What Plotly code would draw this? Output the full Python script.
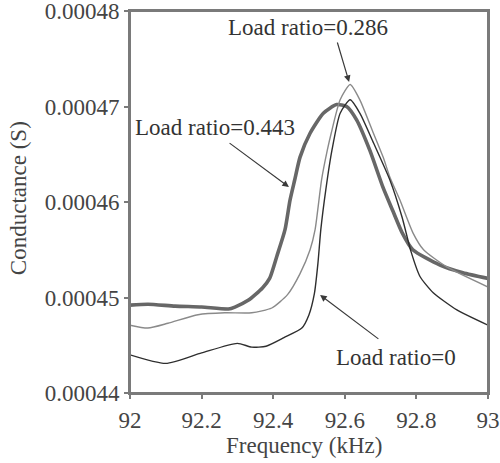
import plotly.graph_objects as go

# Load ratio = 0 (dark thin)
freq_0 = [92.00, 92.10, 92.20, 92.30, 92.34, 92.38, 92.43, 92.48, 92.50, 92.515, 92.525,
          92.533, 92.547, 92.564, 92.587, 92.615, 92.642, 92.68, 92.726, 92.76, 92.785,
          92.81, 92.847, 92.913, 93.00]
cond_0 = [44.40, 44.31, 44.42, 44.52, 44.48, 44.49, 44.58, 44.68, 44.82, 45.04, 45.36,
          45.71, 46.13, 46.54, 46.93, 47.07, 46.93, 46.62, 46.23, 45.84, 45.48,
          45.22, 45.05, 44.87, 44.71]

# Load ratio = 0.286 (gray thin)
freq_286 = [92.00, 92.05, 92.106, 92.19, 92.265, 92.34, 92.396, 92.44, 92.475, 92.503,
            92.517, 92.535, 92.551, 92.562, 92.587, 92.615, 92.642, 92.68, 92.707, 92.726,
            92.754, 92.79, 92.82, 92.885, 93.00]
cond_286 = [44.71, 44.68, 44.73, 44.82, 44.84, 44.84, 44.89, 45.03, 45.25, 45.50,
            45.71, 46.23, 46.54, 46.72, 47.07, 47.23, 47.07, 46.72, 46.47, 46.26,
            46.02, 45.68, 45.50, 45.32, 45.11]

# Load ratio = 0.443 (gray thick)
freq_443 = [92.00, 92.05, 92.126, 92.20, 92.275, 92.293, 92.33, 92.37, 92.39, 92.41,
            92.433, 92.447, 92.46, 92.475, 92.503, 92.54, 92.577, 92.605, 92.633, 92.67,
            92.707, 92.735, 92.76, 92.79, 92.866, 92.93, 93.00]
cond_443 = [44.92, 44.93, 44.91, 44.90, 44.88, 44.90, 44.97, 45.10, 45.20, 45.43,
            45.71, 46.02, 46.23, 46.47, 46.72, 46.93, 47.02, 47.00, 46.86, 46.54,
            46.15, 45.90, 45.68, 45.50, 45.34, 45.26, 45.20]

y_ticks = [0.00044, 0.00045, 0.00046, 0.00047, 0.00048]
y_tick_text = ["0.00044", "0.00045", "0.00046", "0.00047", "0.00048"]
x_ticks = [92, 92.2, 92.4, 92.6, 92.8, 93]
x_tick_text = ["92", "92.2", "92.4", "92.6", "92.8", "93"]

scale = 1e-5
FONT = "Liberation Serif, Times New Roman, serif"
FS = 23
TXT = "#444444"
AXIS = "#7a7a7a"

fig = go.Figure()
fig.add_trace(go.Scatter(x=freq_443, y=[v * scale for v in cond_443], mode="lines",
                         line=dict(color="#676767", width=3.6, shape="spline", smoothing=0.6),
                         name="Load ratio=0.443"))
fig.add_trace(go.Scatter(x=freq_286, y=[v * scale for v in cond_286], mode="lines",
                         line=dict(color="#8a8a8a", width=1.4, shape="spline", smoothing=0.6),
                         name="Load ratio=0.286"))
fig.add_trace(go.Scatter(x=freq_0, y=[v * scale for v in cond_0], mode="lines",
                         line=dict(color="#2e2e2e", width=1.4, shape="spline", smoothing=0.6),
                         name="Load ratio=0"))

labels = [
    ("Load ratio=0.286", 92.497, 47.83, 92.612, 47.257, 92.578, 47.686),
    ("Load ratio=0.443", 92.237, 46.775, 92.444, 46.157, 92.274, 46.628),
    ("Load ratio=0", 92.743, 44.377, 92.531, 45.026, 92.698, 44.555),
]
for text, tx, ty, hx, hy, sx, sy in labels:
    fig.add_annotation(x=tx, y=ty * scale, text=text, showarrow=False,
                       font=dict(family=FONT, size=FS, color="#333333"),
                       xref="x", yref="y")
    fig.add_annotation(x=hx, y=hy * scale, ax=sx, ay=sy * scale, axref="x", ayref="y",
                       xref="x", yref="y", text="", showarrow=True, arrowhead=2,
                       arrowsize=1.1, arrowwidth=1.2, arrowcolor="#3a3a3a", standoff=0,
                       startstandoff=0)

# axis titles
fig.add_annotation(x=-0.313, y=0.51, xref="paper", yref="paper", text="Conductance (S)",
                   textangle=-90, showarrow=False, xanchor="center", yanchor="middle",
                   font=dict(family=FONT, size=FS, color=TXT))
fig.add_annotation(x=0.487, y=-0.137, xref="paper", yref="paper", text="Frequency (kHz)",
                   showarrow=False, xanchor="center", yanchor="middle",
                   font=dict(family=FONT, size=FS, color=TXT))

# frame around the plot area
fig.add_shape(type="rect", xref="paper", yref="paper", x0=0, y0=0, x1=1, y1=1,
              line=dict(color=AXIS, width=2), layer="above")

fig.update_layout(
    width=500, height=463,
    margin=dict(l=130, r=12, t=11, b=70, autoexpand=False),
    plot_bgcolor="white", paper_bgcolor="white",
    showlegend=False,
    font=dict(family=FONT, size=FS, color=TXT),
)
fig.update_xaxes(range=[92, 93], tickvals=x_ticks, ticktext=x_tick_text, automargin=False,
                 showgrid=False, zeroline=False, showline=True, linecolor=AXIS,
                 linewidth=2, mirror=True, ticks="outside", ticklen=4, tickcolor=AXIS,
                 tickwidth=1.5, ticklabelstandoff=1, ticklabeloverflow="allow",
                 tickfont=dict(family=FONT, size=FS, color=TXT))
fig.update_yaxes(range=[0.00044, 0.00048], tickvals=y_ticks, ticktext=y_tick_text, automargin=False,
                 showgrid=False, zeroline=False, showline=True, linecolor=AXIS,
                 linewidth=2, mirror=True, ticks="outside", ticklen=4, tickcolor=AXIS,
                 tickwidth=1.5, ticklabeloverflow="allow",
                 tickfont=dict(family=FONT, size=FS, color=TXT))

fig.write_html("out.html")
